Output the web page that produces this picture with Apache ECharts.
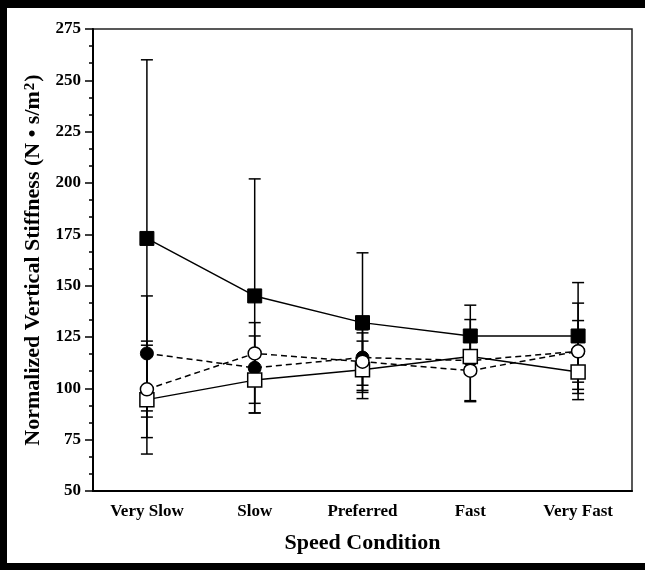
<!DOCTYPE html>
<html><head><meta charset="utf-8">
<script src="https://cdn.jsdelivr.net/npm/echarts@6/dist/echarts.min.js"></script>
<style>html,body{margin:0;padding:0;background:#fff}#c{width:645px;height:570px}</style>
</head><body><div id="c"></div>
<script>
// ---- data ----
const categories = ['Very Slow', 'Slow', 'Preferred', 'Fast', 'Very Fast'];
const filledSquare   = [173, 145, 132, 125.5, 125.5];
const filledSquareSD = [87, 57, 34, 15, 26];
const openSquare     = [94.5, 104, 109, 115.5, 108];
const openSquareSD   = [26.5, 11.3, 14, 8, 10.5];
const filledCircle   = [117, 110, 115, 113.5, 118];
const filledCircleSD = [28, 22, 13.5, 20, 15];
const openCircle     = [99.5, 117, 113, 108.6, 118];
const openCircleSD   = [23.5, 8.5, 14, 14.6, 23.5];
const yTicks = [50, 75, 100, 125, 150, 175, 200, 225, 250, 275];

const FONT = '"Liberation Serif", "Times New Roman", serif';

function errData(mean, sd) {
  return mean.map((m, i) => [i, m - sd[i], m + sd[i]]);
}
const allErr = [].concat(
  errData(filledSquare, filledSquareSD),
  errData(openSquare, openSquareSD),
  errData(filledCircle, filledCircleSD),
  errData(openCircle, openCircleSD)
);

function renderErr(params, api) {
  const x = api.value(0), lo = api.value(1), hi = api.value(2);
  const pHi = api.coord([x, hi]), pLo = api.coord([x, lo]);
  const w = 6;
  const st = { stroke: '#000', lineWidth: 1.5 };
  return {
    type: 'group',
    children: [
      { type: 'line', shape: { x1: pHi[0], y1: pHi[1], x2: pLo[0], y2: pLo[1] }, style: st },
      { type: 'line', shape: { x1: pHi[0] - w, y1: pHi[1], x2: pHi[0] + w, y2: pHi[1] }, style: st },
      { type: 'line', shape: { x1: pLo[0] - w, y1: pLo[1], x2: pLo[0] + w, y2: pLo[1] }, style: st }
    ]
  };
}

const chart = echarts.init(document.getElementById('c'));
chart.setOption({
  animation: false,
  backgroundColor: '#fff',
  graphic: [
    { type: 'rect', shape: { x: 0, y: 0, width: 645, height: 8 }, style: { fill: '#000' } },
    { type: 'rect', shape: { x: 0, y: 0, width: 7, height: 570 }, style: { fill: '#000' } },
    { type: 'rect', shape: { x: 0, y: 563, width: 645, height: 7 }, style: { fill: '#000' } }
  ],
  grid: {
    left: 93, right: 13, top: 29, bottom: 79,
    show: true, borderColor: '#222', borderWidth: 1.5, backgroundColor: 'transparent'
  },
  xAxis: {
    type: 'category',
    data: categories,
    boundaryGap: true,
    axisLine: { lineStyle: { color: '#000', width: 2 } },
    axisTick: { alignWithLabel: true, length: 9, lineStyle: { color: '#000', width: 1.5 } },
    axisLabel: { color: '#000', fontFamily: FONT, fontWeight: 'bold', fontSize: 17, margin: 12 },
    name: 'Speed Condition',
    nameLocation: 'middle',
    nameGap: 41,
    nameTextStyle: { color: '#000', fontFamily: FONT, fontWeight: 'bold', fontSize: 22 },
    splitLine: { show: false }
  },
  yAxis: {
    type: 'value',
    min: yTicks[0], max: yTicks[yTicks.length - 1], interval: 25,
    axisLine: { show: true, lineStyle: { color: '#000', width: 2 } },
    axisTick: { show: true, length: 8, lineStyle: { color: '#000', width: 1.5 } },
    minorTick: { show: true, splitNumber: 3, length: 4, lineStyle: { color: '#000', width: 1.5 } },
    axisLabel: { color: '#000', fontFamily: FONT, fontWeight: 'bold', fontSize: 17, margin: 12 },
    splitLine: { show: false },
    name: 'Normalized Vertical Stiffness (N \u2022 s/m{sup|2})',
    nameLocation: 'middle',
    nameRotate: 90,
    nameGap: 48,
    nameTextStyle: {
      color: '#000', fontFamily: FONT, fontWeight: 'bold', fontSize: 22,
      rich: { sup: { color: '#000', fontFamily: FONT, fontWeight: 'bold', fontSize: 15, verticalAlign: 'top', padding: [0, 1, 0, 1] } }
    }
  },
  series: [
    { type: 'custom', renderItem: renderErr, data: allErr, z: 1, encode: { x: 0, y: [1, 2] } },
    { type: 'line', data: filledSquare, symbol: 'rect', symbolSize: 14, z: 3,
      lineStyle: { color: '#000', width: 1.5 }, itemStyle: { color: '#000', borderColor: '#000' } },
    { type: 'line', data: filledCircle, symbol: 'circle', symbolSize: 13, z: 4,
      lineStyle: { color: '#000', width: 1.5, type: [6, 4] }, itemStyle: { color: '#000', borderColor: '#000' } },
    { type: 'line', data: openSquare, symbol: 'rect', symbolSize: 14, z: 5,
      lineStyle: { color: '#000', width: 1.5 }, itemStyle: { color: '#fff', borderColor: '#000', borderWidth: 1.5 } },
    { type: 'line', data: openCircle, symbol: 'circle', symbolSize: 13, z: 6,
      lineStyle: { color: '#000', width: 1.5, type: [6, 4] }, itemStyle: { color: '#fff', borderColor: '#000', borderWidth: 1.5 } }
  ]
});
</script>
</body></html>
